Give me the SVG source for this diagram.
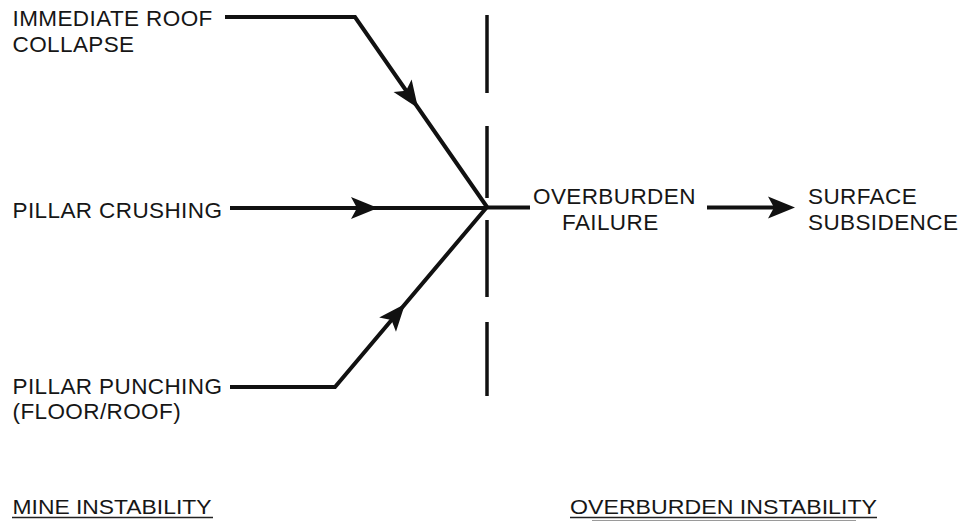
<svg xmlns="http://www.w3.org/2000/svg" xmlns:xlink="http://www.w3.org/1999/xlink" width="962" height="521" viewBox="0 0 962 521">
  <style>
    .lbl { font-family: "Liberation Sans", Arial, sans-serif; font-size: 22.5px; fill: #161616; letter-spacing: 0.4px; }
    .hdr { font-family: "Liberation Sans", Arial, sans-serif; font-size: 20px; fill: #161616; }
    .wire { fill: none; stroke: #111; stroke-width: 4; stroke-linejoin: miter; }
    .dash { fill: none; stroke: #111; stroke-width: 3.5; }
    .ul { stroke: #222; stroke-width: 1.6; }
  </style>
  <defs>
    <path id="ah" d="M0,0 L-27,-11 L-21,0 L-27,11 Z" fill="#111"/>
  </defs>
  <rect width="962" height="521" fill="#ffffff"/>

  <g id="connectors">
    <polyline class="wire" points="225,17 355,17 487,207"/>
    <line class="wire" x1="230" y1="208" x2="487" y2="208"/>
    <polyline class="wire" points="230,387 335,387 487,207"/>
    <line class="wire" x1="487" y1="207.5" x2="530" y2="207.5"/>
    <line class="wire" x1="707" y1="207.5" x2="780" y2="207.5"/>
    <use xlink:href="#ah" href="#ah" transform="translate(418,108) rotate(55.2)"/>
    <use xlink:href="#ah" href="#ah" transform="translate(378,208)"/>
    <use xlink:href="#ah" href="#ah" transform="translate(405,304) rotate(-49.8)"/>
    <use xlink:href="#ah" href="#ah" transform="translate(795,207.5)"/>
  </g>

  <g id="boundary">
    <line class="dash" x1="487" y1="15" x2="487" y2="93"/>
    <line class="dash" x1="487" y1="126" x2="487" y2="198"/>
    <line class="dash" x1="487" y1="220" x2="487" y2="297"/>
    <line class="dash" x1="487" y1="322" x2="487" y2="396"/>
  </g>

  <g id="immediate-roof-collapse">
    <text class="lbl" x="12.5" y="26">IMMEDIATE ROOF</text>
    <text class="lbl" x="12.5" y="51.5">COLLAPSE</text>
  </g>
  <g id="pillar-crushing">
    <text class="lbl" x="12.5" y="217.5">PILLAR CRUSHING</text>
  </g>
  <g id="pillar-punching">
    <text class="lbl" x="12.5" y="393.5">PILLAR PUNCHING</text>
    <text class="lbl" x="12.5" y="419">(FLOOR/ROOF)</text>
  </g>
  <g id="overburden-failure">
    <text class="lbl" x="533" y="203.5">OVERBURDEN</text>
    <text class="lbl" x="562" y="229.5">FAILURE</text>
  </g>
  <g id="surface-subsidence">
    <text class="lbl" x="808" y="203.5">SURFACE</text>
    <text class="lbl" x="808" y="229.5">SUBSIDENCE</text>
  </g>
  <g id="mine-instability">
    <text class="hdr" x="12.5" y="514" textLength="199" lengthAdjust="spacingAndGlyphs">MINE INSTABILITY</text>
    <line class="ul" x1="12" y1="517.5" x2="213" y2="517.5"/>
  </g>
  <g id="overburden-instability">
    <text class="hdr" x="570" y="514" textLength="307" lengthAdjust="spacingAndGlyphs">OVERBURDEN INSTABILITY</text>
    <line class="ul" x1="570" y1="517.5" x2="877" y2="517.5"/>
    <line x1="592" y1="520.5" x2="856" y2="520.5" stroke="#9a9a9a" stroke-width="1"/>
  </g>
</svg>
